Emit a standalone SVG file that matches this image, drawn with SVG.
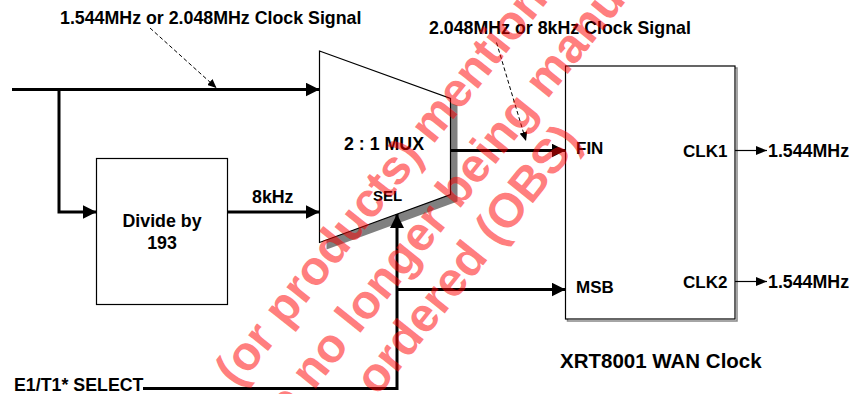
<svg xmlns="http://www.w3.org/2000/svg" width="849" height="394" viewBox="0 0 849 394">
<style>
  text { font-family: "Liberation Sans", Arial, sans-serif; font-weight: bold; fill: #000; }
  .lbl { font-size: 17.8px; }
  .box { fill: #fff; stroke: #000; stroke-width: 1.2; }
  .wire { fill: none; stroke: #000; stroke-width: 3; stroke-linejoin: miter; }
  .thin { fill: none; stroke: #000; stroke-width: 1.2; }
  .dash { fill: none; stroke: #000; stroke-width: 1; stroke-dasharray: 4 2.5; }
  .wm { font-size: 48px; fill: #ff0000; fill-opacity: 0.52; }
</style>
<defs>
  <marker id="ah" markerUnits="userSpaceOnUse" markerWidth="15" markerHeight="14" refX="14" refY="7" orient="auto">
    <path d="M0,0 L14,7 L0,14 z" fill="#000"/>
  </marker>
  <marker id="ahs" markerUnits="userSpaceOnUse" markerWidth="12" markerHeight="9" refX="11" refY="4.5" orient="auto">
    <path d="M0,0 L11,4.5 L0,9 z" fill="#000"/>
  </marker>
  <marker id="ahd" markerUnits="userSpaceOnUse" markerWidth="10" markerHeight="8" refX="9" refY="4" orient="auto">
    <path d="M0,0 L9,4 L0,8 z" fill="#000"/>
  </marker>
</defs>

<g id="labels">
  <text class="lbl" x="60" y="24">1.544MHz or 2.048MHz Clock Signal</text>
  <text class="lbl" x="429" y="34">2.048MHz or 8kHz Clock Signal</text>
  <text class="lbl" x="252" y="203">8kHz</text>
  <text class="lbl" x="14" y="391">E1/T1* SELECT</text>
</g>

<g id="divide">
  <rect class="box" x="96.5" y="158.5" width="131" height="146"/>
  <text class="lbl" x="162" y="227" text-anchor="middle">Divide by</text>
  <text class="lbl" x="162" y="249" text-anchor="middle">193</text>
</g>

<g id="mux">
  <polygon points="326.5,58 457.5,105.5 457.5,201.5 326.5,249.5" fill="#808080"/>
  <polygon points="319.5,51 450.5,98.5 450.5,194.5 319.5,242.5" fill="#fff" stroke="#000" stroke-width="1.2"/>
  <text class="lbl" x="344" y="150">2 : 1 MUX</text>
  <text x="373" y="201" font-size="15">SEL</text>
</g>

<g id="wanclock">
  <rect x="567.5" y="68" width="169.5" height="253" fill="none" stroke="#888" stroke-width="1.5"/>
  <rect class="box" x="565.5" y="66" width="169.5" height="253"/>
  <text x="576" y="154" font-size="17">FIN</text>
  <text x="576" y="293" font-size="17">MSB</text>
  <text x="683" y="157" font-size="17">CLK1</text>
  <text x="683" y="288" font-size="17">CLK2</text>
  <text class="lbl" x="768" y="157">1.544MHz</text>
  <text class="lbl" x="768" y="288">1.544MHz</text>
  <text x="560" y="368" font-size="20.5">XRT8001 WAN Clock</text>
</g>

<g id="connectors">
  <path class="wire" d="M12,89.5 H319.5" marker-end="url(#ah)"/>
  <path class="wire" d="M59,89.5 V212 H96.5" marker-end="url(#ah)"/>
  <path class="wire" d="M227.5,212 H319.5" marker-end="url(#ah)"/>
  <path class="wire" d="M450.5,150.5 H565.5" marker-end="url(#ah)"/>
  <path class="wire" d="M143,388.5 H397 V214" marker-end="url(#ah)"/>
  <path class="wire" d="M397,289.5 H565.5" marker-end="url(#ah)"/>
  <path class="thin" d="M735,150.5 H767" marker-end="url(#ahs)"/>
  <path class="thin" d="M735,281.5 H767" marker-end="url(#ahs)"/>
  <path class="dash" d="M150,28 L216.5,88" marker-end="url(#ahd)"/>
  <path class="dash" d="M496.5,42.5 L526,141" marker-end="url(#ahd)"/>
</g>

<g id="watermark">
  <text class="wm" transform="translate(237.6,388.8) rotate(-51.3)">(or products) mentioned</text>
  <text class="wm" transform="translate(260.2,458) rotate(-51.3)">are no longer being manufactured</text>
  <text class="wm" transform="translate(377.6,397.3) rotate(-51.3)">ordered (OBS)</text>
</g>
</svg>
